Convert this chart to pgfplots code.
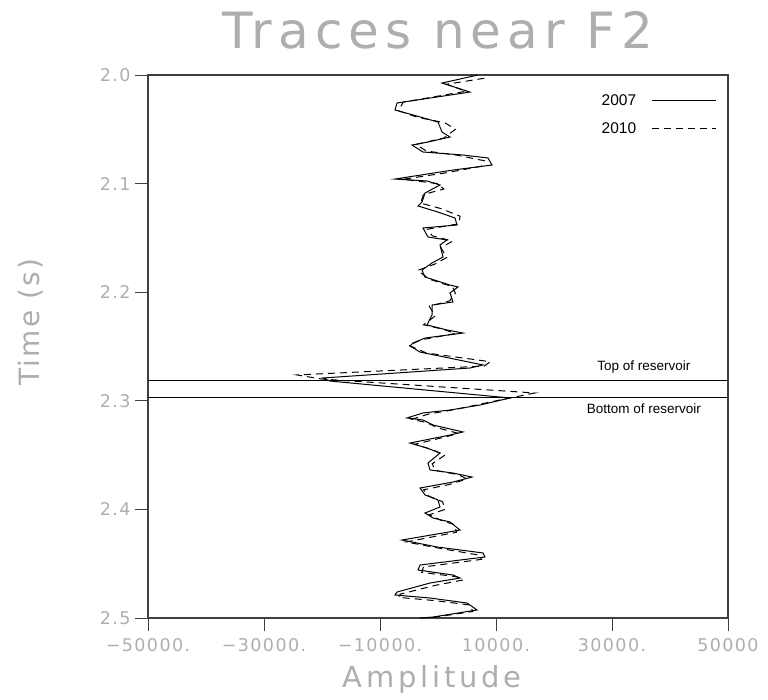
\documentclass[border=0pt]{standalone}
\usepackage{pgfplots}
\pgfplotsset{compat=1.18}
\usepackage{pgfplotstable}
\usepackage{fontspec}
\setmainfont{Liberation Sans}
\newfontfamily\tickfont[LetterSpace=8]{DejaVu Sans}
\newfontfamily\titlefont[LetterSpace=12]{DejaVu Sans}
\newfontfamily\labfont[LetterSpace=13]{DejaVu Sans}
\newfontfamily\ylabfont[LetterSpace=8]{DejaVu Sans}
\definecolor{lightgr}{HTML}{AEAEAE}

\pgfplotstableread{
amp time
6897 2.0000
690 2.0074
5517 2.0157
-7069 2.0258
-7414 2.0322
-4310 2.0368
0 2.0433
690 2.0525
2069 2.0571
-1724 2.0617
-4483 2.0645
-2586 2.0709
4310 2.0737
8621 2.0764
9310 2.0829
2586 2.0875
-7414 2.0958
-1897 2.0976
345 2.1013
-2241 2.1087
-2759 2.1169
-3448 2.1206
0 2.1262
2931 2.1317
3276 2.1381
-2586 2.1409
-1724 2.1492
1552 2.1519
345 2.1565
862 2.1676
-1034 2.1731
-2759 2.1796
-2241 2.1860
2069 2.1934
3448 2.1952
2069 2.2007
2586 2.2090
-1034 2.2118
-1034 2.2210
-1897 2.2302
1552 2.2348
4310 2.2376
-2241 2.2422
-4310 2.2468
-4828 2.2495
-3103 2.2551
7759 2.2670
5517 2.2698
-19828 2.2790
-18621 2.2818
12414 2.2974
7241 2.3039
2069 2.3085
-2586 2.3112
-5345 2.3158
-2586 2.3177
-862 2.3223
4310 2.3287
2069 2.3315
-4828 2.3389
-1897 2.3435
345 2.3481
-1724 2.3573
-1379 2.3637
2586 2.3665
5862 2.3702
2586 2.3748
-3103 2.3803
-2241 2.3867
0 2.3913
345 2.3978
-2241 2.4033
-862 2.4079
2069 2.4116
3793 2.4190
-6207 2.4282
-172 2.4346
7759 2.4401
8103 2.4438
-3103 2.4512
-3448 2.4558
2586 2.4604
3793 2.4632
-1379 2.4678
-7069 2.4761
-7414 2.4788
-1379 2.4816
5000 2.4862
6724 2.4926
-862 2.4991
-3103 2.5000
}\tracea

\pgfplotstableread{
amp time
8000 2.0030
1500 2.0085
4800 2.0150
-6000 2.0250
-6800 2.0330
-3500 2.0390
1200 2.0440
3000 2.0500
1000 2.0580
-3800 2.0640
-2000 2.0700
3500 2.0740
8000 2.0790
7500 2.0840
1500 2.0900
-6000 2.0960
0 2.1000
1000 2.1050
-2500 2.1100
-3000 2.1180
500 2.1230
3800 2.1300
3600 2.1370
-1800 2.1420
-1000 2.1480
2500 2.1530
500 2.1590
1500 2.1680
-500 2.1740
-3500 2.1800
-1500 2.1880
2500 2.1950
3000 2.2010
2000 2.2080
-1500 2.2130
-500 2.2220
-2500 2.2300
800 2.2340
3000 2.2380
-3000 2.2440
-5000 2.2490
-2000 2.2560
9000 2.2640
8000 2.2680
-24300 2.2762
-20000 2.2800
16700 2.2928
10000 2.3000
3000 2.3080
-1500 2.3120
-4500 2.3170
-2000 2.3200
0 2.3250
3500 2.3300
1500 2.3330
-4000 2.3400
-1000 2.3450
1200 2.3500
-1000 2.3580
-500 2.3640
3500 2.3680
5000 2.3720
2000 2.3770
-2500 2.3820
-1500 2.3880
800 2.3930
1200 2.4000
-1500 2.4050
500 2.4100
2800 2.4140
3200 2.4210
-5500 2.4300
500 2.4360
7000 2.4420
7500 2.4460
-2500 2.4530
-2800 2.4580
3200 2.4620
4300 2.4650
-500 2.4700
-6500 2.4780
-6800 2.4810
-500 2.4840
5500 2.4880
6000 2.4940
-1500 2.5000
}\traceb

\begin{document}
\begin{tikzpicture}
\begin{axis}[
  scale only axis, width=580pt, height=543pt,
  at={(0,0)}, anchor=south west,
  xmin=-50000, xmax=50000, ymin=2.0, ymax=2.5, y dir=reverse,
  scaled x ticks=false,
  xtick={-50000,-30000,-10000,10000,30000,50000},
  xticklabels={−50000.,−30000.,−10000.,10000.,30000.,50000},
  ytick={2.0,2.1,2.2,2.3,2.4,2.5},
  yticklabels={2.0,2.1,2.2,2.3,2.4,2.5},
  xtick pos=bottom, ytick pos=left,
  tick align=outside, major tick length=13pt,
  tick style={black!75, line width=0.9pt},
  axis line style={black!75, line width=1.1pt},
  ticklabel style={font=\tickfont\fontsize{17.5}{17.5}\selectfont, text=lightgr},
  xticklabel style={yshift=-4pt},
  yticklabel style={xshift=-1pt},
  legend style={draw=none, fill=none, at={(0.985,0.972)}, anchor=north east,
    font=\fontsize{15.5}{15.5}\selectfont, row sep=12pt},
  legend plot pos=right,
  legend cell align=right,
  legend image code/.code={\path (0pt,0pt); \draw[#1, line width=0.9pt] (13pt,0pt) -- (77pt,0pt);},
  clip=false,
]
\addplot[black, line width=1pt] table[x=amp, y=time] {\tracea};
\addlegendentry{2007}
\addplot[black, line width=1pt, dash pattern=on 7pt off 5pt] table[x=amp, y=time] {\traceb};
\addlegendentry{2010}
\addplot[black, line width=0.9pt, forget plot] coordinates {(-50000,2.281) (50000,2.281)};
\addplot[black, line width=0.9pt, forget plot] coordinates {(-50000,2.297) (50000,2.297)};
\node[font=\fontsize{13.5}{13.5}\selectfont] at (axis cs:35500,2.2685) {Top of reservoir};
\node[font=\fontsize{13.5}{13.5}\selectfont] at (axis cs:35500,2.3075) {Bottom of reservoir};
\end{axis}
\node[anchor=base, text=lightgr, font=\titlefont\fontsize{50}{50}\selectfont] at (290pt,569pt) {Traces near F2};
\node[anchor=base, text=lightgr, font=\labfont\fontsize{29}{29}\selectfont] at (284pt,-70pt) {Amplitude};
\node[rotate=90, text=lightgr, font=\ylabfont\fontsize{28}{28}\selectfont] at (-117pt,296pt) {Time (s)};
\pgfresetboundingbox
\useasboundingbox (-148pt,-82pt) rectangle (620pt,618pt);
\end{tikzpicture}
\end{document}
